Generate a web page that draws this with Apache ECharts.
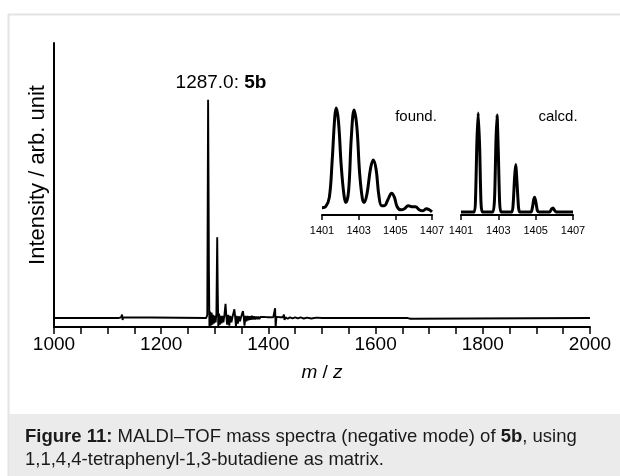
<!DOCTYPE html>
<html><head><meta charset="utf-8">
<script src="https://cdn.jsdelivr.net/npm/echarts@6.0.0/dist/echarts.min.js"></script>
<style>html,body{margin:0;padding:0;background:#fff}#c{width:620px;height:476px}</style>
</head><body><div id="c"></div>
<script>
// Main spectrum (m/z, intensity in % of base peak)
const mainMz = [1000,1120,1125,1127,1128,1129,1131,1284,1286,1287.5,1288.3,1289,1290,1291,1292.5,1294,1295.5,1297,1298.5,1300,1301.5,1303,1304.5,1305.5,1306.5,1308,1309.5,1311,1312.5,1314,1316,1318,1320,1321.5,1323,1325,1327,1329,1331,1333,1335,1336.5,1338,1339.5,1341,1343,1345,1347,1349,1351,1352.5,1354,1355.5,1357,1359,1361,1363,1365,1367,1369,1371,1373,1375,1377,1379,1381,1383,1385,1388,1391,1394,1397,1400,1403,1406,1409,1411,1412.5,1413.5,1415,1418,1421,1424,1427,1429,1430,1432,1436,1440,1445,1450,1455,1460,1466,1472,1480,1490,1500,1660,1663,1665,1667,2000];
const mainInt = [0,0,0.3,1.6,-0.9,0.4,0,0,1.5,100,62,22,-4,3,-3.5,2.5,-3,1.5,-2.5,1,-2,2,37,12,-4,2,-3,1,-2.5,1,-2,1.5,6.5,1,-3,1.5,-3.5,1,-2,0.5,1,4,0.5,-4,1,-2.5,0.8,-1.5,0.5,1,3.2,0.3,-3.5,1,-1.5,1,-1,0.8,-0.8,1,-0.7,0.8,-0.6,0.7,-0.5,0.6,-0.5,0.5,-0.4,0.5,-0.3,0.4,-0.3,0.4,-0.3,0.3,0.5,4.5,-4,0.5,-0.3,0.4,-0.3,0.4,1.6,-0.8,0.3,-0.3,0.3,-0.2,0.3,-0.2,0.3,-0.2,0.2,-0.2,0.2,0,0,0.7,-0.3,0,0];

// Inset: found isotope pattern
const foundMz = [1401.0,1401.2,1401.4,1401.55,1401.7,1401.78,1401.9,1402.05,1402.2,1402.3,1402.45,1402.6,1402.75,1402.9,1403.05,1403.2,1403.3,1403.45,1403.65,1403.8,1403.95,1404.1,1404.25,1404.4,1404.6,1404.8,1404.95,1405.1,1405.3,1405.5,1405.7,1405.9,1406.1,1406.3,1406.5,1406.7,1406.85,1407.0];
const foundInt = [4,5,14,48,92,100,87,44,16,9,20,72,98,82,38,13,9,17,42,50,41,16,6,6,12,18,14,5,2,3,6,5,5,2,1,3,2,0];

// Inset: calculated isotope pattern
const calcMz = [1401.0,1401.7,1401.78,1401.85,1401.92,1402.0,1402.07,1402.15,1402.7,1402.8,1402.87,1402.93,1403.0,1403.07,1403.15,1403.72,1403.8,1403.87,1403.93,1404.0,1404.08,1404.15,1404.75,1404.83,1404.9,1404.95,1405.02,1405.1,1405.2,1405.75,1405.85,1405.93,1406.0,1406.1,1407.0];
const calcInt = [0,0,15,70,100,65,10,0,0,15,70,98,60,10,0,0,10,35,48,30,5,0,0,5,13,15,9,1,0,0,3,4,2,0,0];

const insetTicks = [1401,1403,1405,1407];
const mainTickLabels = [1000,1200,1400,1600,1800,2000];

const FONT = '"Liberation Sans", Arial, Helvetica, sans-serif';
const zip = (a,b) => a.map((v,i)=>[v,b[i]]);

const chart = echarts.init(document.getElementById('c'), null, {renderer:'canvas'});

const insetX = (gi) => ({
  gridIndex: gi, type:'value', min:1401, max:1407, interval:2,
  axisLine:{onZero:false, lineStyle:{color:'#000', width:2}},
  axisTick:{show:true, inside:false, length:5, lineStyle:{color:'#000', width:1.5}},
  axisLabel:{fontSize:11, color:'#000', fontFamily:FONT, margin:10,
    formatter:v=> insetTicks.includes(v) ? String(v) : ''},
  splitLine:{show:false}
});
const hiddenY = (gi) => ({gridIndex:gi, type:'value', min:-3, max:100, show:false, splitLine:{show:false}});

chart.setOption({
  animation:false,
  backgroundColor:'#fff',
  textStyle:{fontFamily:FONT},
  graphic:[
    {type:'line', z:0, shape:{x1:8, y1:14.5, x2:620, y2:14.5}, style:{stroke:'#e3e3e3', lineWidth:2}},
    {type:'line', z:0, shape:{x1:8.5, y1:14, x2:8.5, y2:476}, style:{stroke:'#e3e3e3', lineWidth:2}},
    {type:'rect', z:0, shape:{x:9, y:414, width:611, height:62}, style:{fill:'#ebebeb'}},
    {type:'text', z:5, x:25, y:437, style:{
      text:'{b|Figure 11:} MALDI–TOF mass spectra (negative mode) of {b|5b}, using',
      fontSize:18.5, fontFamily:FONT, fill:'#1a1a1a', verticalAlign:'middle',
      rich:{b:{fontWeight:'bold', fontSize:18.5, fontFamily:FONT, fill:'#1a1a1a'}}}},
    {type:'text', z:5, x:25, y:460, style:{
      text:'1,1,4,4-tetraphenyl-1,3-butadiene as matrix.',
      fontSize:18.5, fontFamily:FONT, fill:'#1a1a1a', verticalAlign:'middle'}},
    {type:'text', z:5, x:221, y:83, style:{
      text:'1287.0: {b|5b}', fontSize:19, fontFamily:FONT, fill:'#000', align:'center', verticalAlign:'middle',
      rich:{b:{fontWeight:'bold', fontSize:19, fontFamily:FONT, fill:'#000'}}}},
    {type:'text', z:5, x:416, y:117, style:{text:'found.', fontSize:15, fontFamily:FONT, fill:'#000', align:'center', verticalAlign:'middle'}},
    {type:'text', z:5, x:558, y:117, style:{text:'calcd.', fontSize:15, fontFamily:FONT, fill:'#000', align:'center', verticalAlign:'middle'}}
  ],
  grid:[
    {left:54, right:30, top:43, bottom:149},
    {left:322, width:110, top:108, height:107},
    {left:461, width:112, top:113, height:102}
  ],
  xAxis:[
    {gridIndex:0, type:'value', min:1000, max:2000, interval:50,
      axisLine:{onZero:false, lineStyle:{color:'#000', width:2}},
      axisTick:{show:true, inside:false, length:7, lineStyle:{color:'#000', width:1.5}},
      axisLabel:{fontSize:19, color:'#000', fontFamily:FONT, margin:8,
        formatter:v=> mainTickLabels.includes(v) ? String(v) : ''},
      splitLine:{show:false},
      name:'{i|m} / {i|z}', nameLocation:'middle', nameGap:36,
      nameTextStyle:{fontSize:19, color:'#000', fontFamily:FONT,
        rich:{i:{fontStyle:'italic', fontSize:19, color:'#000', fontFamily:FONT}}}
    },
    insetX(1), insetX(2)
  ],
  yAxis:[
    {gridIndex:0, type:'value', min:-4.1, max:126,
      axisLine:{show:true, onZero:false, lineStyle:{color:'#000', width:2}},
      axisTick:{show:false}, axisLabel:{show:false}, splitLine:{show:false},
      name:'Intensity / arb. unit', nameLocation:'middle', nameGap:5,
      nameTextStyle:{fontSize:22, color:'#000', fontFamily:FONT, padding:[0,0,0,20]}
    },
    hiddenY(1), hiddenY(2)
  ],
  series:[
    {type:'line', xAxisIndex:0, yAxisIndex:0, data:zip(mainMz, mainInt), showSymbol:false,
      lineStyle:{color:'#000', width:1.9}, silent:true},
    {type:'line', xAxisIndex:1, yAxisIndex:1, data:zip(foundMz, foundInt), showSymbol:false, smooth:0.4, clip:false,
      lineStyle:{color:'#000', width:3}, silent:true},
    {type:'line', xAxisIndex:2, yAxisIndex:2, data:zip(calcMz, calcInt), showSymbol:false, smooth:0.2, clip:false,
      lineStyle:{color:'#000', width:3}, silent:true}
  ]
});
</script>
</body></html>
